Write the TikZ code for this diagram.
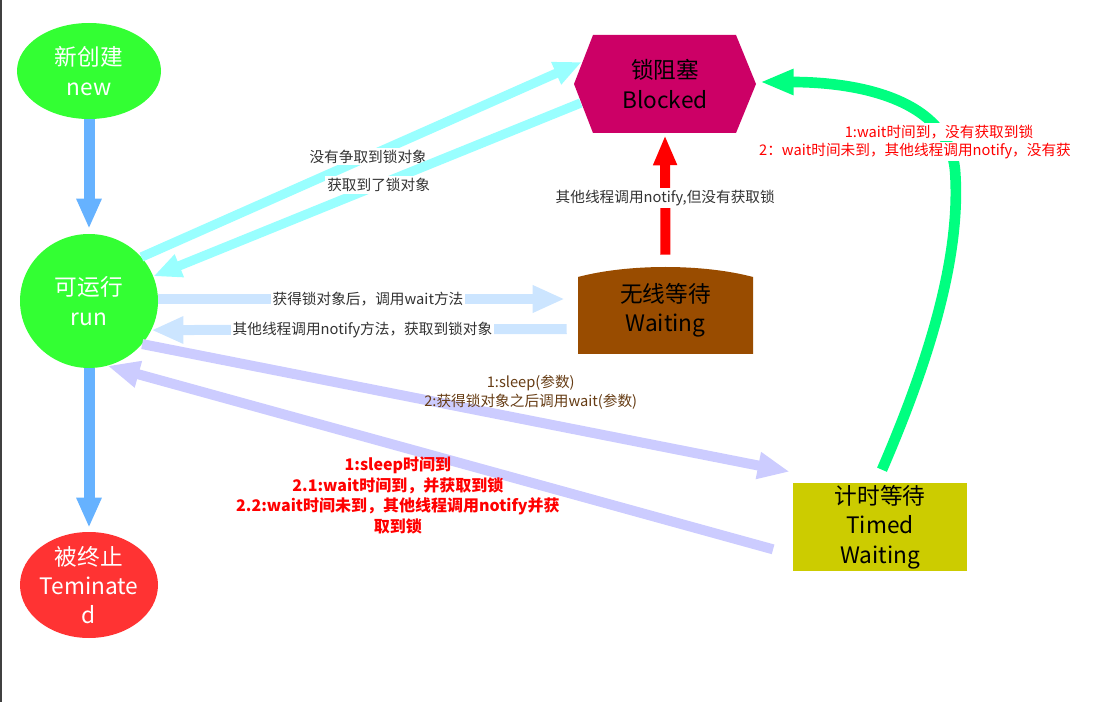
\documentclass[tikz,border=0pt]{standalone}
\usepackage{fontspec}
\setmainfont{Noto Sans CJK SC}
\usetikzlibrary{arrows.meta,positioning,shapes.geometric}
\definecolor{nodegreen}{RGB}{51,255,51}
\definecolor{nodered}{RGB}{255,51,51}
\definecolor{blockmag}{RGB}{204,0,102}
\definecolor{waitbrown}{RGB}{153,76,0}
\definecolor{timedolive}{RGB}{204,204,0}
\definecolor{flowblue}{RGB}{102,178,255}
\definecolor{lockcyan}{RGB}{153,255,255}
\definecolor{waitblue}{RGB}{204,229,255}
\definecolor{timedlav}{RGB}{204,204,255}
\definecolor{wakegreen}{RGB}{0,255,128}
\definecolor{notebrown}{RGB}{102,60,20}
\definecolor{labelgray}{RGB}{51,51,51}
\definecolor{framegray}{RGB}{64,64,64}

\begin{document}
\begin{tikzpicture}[x=0.75pt, y=-0.75pt,
  state/.style={align=center, font=\fontsize{17pt}{22pt}\selectfont},
  ovalstate/.style={state, ellipse, inner sep=-6pt, fill=#1, text=white},
  boxstate/.style={state, rectangle, inner sep=0pt},
  lbl/.style={fill=white, inner sep=1.5pt, text=labelgray, font=\fontsize{11pt}{14pt}\selectfont},
  note/.style={align=center, inner sep=1.5pt, font=\fontsize{11pt}{14.25pt}\selectfont},
  newflow/.style={draw=flowblue, line width=8.25pt, -{Triangle[length=22.5pt,width=17.5pt]}},
  lockflow/.style={draw=lockcyan, line width=7pt, -{Triangle[length=21pt,width=17pt]}},
  waitflow/.style={draw=waitblue, line width=7.5pt, -{Triangle[length=24pt,width=19pt]}},
  timedflow/.style={draw=timedlav, line width=7.5pt, -{Triangle[length=24pt,width=19pt]}},
  notifyflow/.style={draw=red, line width=7.5pt, -{Triangle[length=22.5pt,width=16.5pt]}},
  wakeflow/.style={draw=wakegreen, line width=8pt, -{Triangle[length=25pt,width=18pt]}}]
  \useasboundingbox (0,0) rectangle (1104,702);
  \draw[framegray, line width=1.5pt] (1,0) -- (1,702);

  % states
  \node[ovalstate=nodegreen, minimum width=108pt, minimum height=72pt] (new) at (89,71) {新创建\\new};
  \node[ovalstate=nodegreen, minimum width=103.5pt, minimum height=100.5pt] (run) at (89,301) {可运行\\run};
  \node[ovalstate=nodered, minimum width=103.5pt, minimum height=79.5pt] (term) at (89,585) {被终止\\Teminate\\d};
  \node[boxstate, minimum width=136.5pt, minimum height=73.5pt,
        path picture={\fill[blockmag] (path picture bounding box.west)
          -- ([xshift=14.25pt]path picture bounding box.north west)
          -- ([xshift=-15pt]path picture bounding box.north east)
          -- (path picture bounding box.east)
          -- ([xshift=-15pt]path picture bounding box.south east)
          -- ([xshift=14.25pt]path picture bounding box.south west) -- cycle;}]
        (blocked) at (665,84) {锁阻塞\\Blocked};
  \node[boxstate, minimum width=131.25pt, minimum height=65.25pt,
        path picture={\fill[waitbrown] (path picture bounding box.south west)
          -- ([yshift=-7.5pt]path picture bounding box.north west)
          .. controls ([xshift=-28pt, yshift=2.5pt]path picture bounding box.north)
          and ([xshift=28pt, yshift=2.5pt]path picture bounding box.north)
          .. ([yshift=-7.5pt]path picture bounding box.north east)
          -- (path picture bounding box.south east) -- cycle;}]
        (waiting) at (665.5,310.5) {无线等待\\Waiting};
  \node[boxstate, fill=timedolive, minimum width=130.5pt, minimum height=66pt] (timed) at (880,527) {计时等待\\Timed\\Waiting};

  % transitions
  \draw[newflow, shorten >=3.75pt] (new) -- (run);
  \draw[newflow, shorten >=3pt] (run) -- (term);
  \draw[lockflow] (run.40) -- node[lbl, pos=0.515] {没有争取到锁对象} ([shift={(8,-22)}]blocked.west);
  \draw[lockflow] ([shift={(7,19)}]blocked.west) -- node[lbl, pos=0.473] {获取到了锁对象} (run.21);
  \draw[waitflow, shorten >=9.75pt] ([shift={(0,-2)}]run.east) -- node[lbl, pos=0.5] {获得锁对象后，调用wait方法} ([shift={(0,-11.5)}]waiting.west);
  \draw[waitflow, shorten <=8.25pt] ([shift={(0,18.5)}]waiting.west) -- node[lbl, pos=0.505] {其他线程调用notify方法，获取到锁对象} (run.-25);
  \draw[notifyflow, shorten <=9pt, shorten >=1.5pt] (waiting.north) -- node[lbl, pos=0.515] {其他线程调用notify,但没有获取锁} (blocked.south);
  \draw[timedflow] (run.-39) -- node[note, pos=0.6, above=3pt, text=notebrown] {1:sleep(参数)\\2:获得锁对象之后调用wait(参数)} ([shift={(-3,-11)}]timed.north west);
  \draw[timedflow, shorten <=7.5pt] ([shift={(-10,25)}]timed.west) -- node[note, pos=0.57, below=3pt, text=red, font=\bfseries\fontsize{12pt}{15.5pt}\selectfont]
        {1:sleep时间到\\2.1:wait时间到，并获取到锁\\2.2:wait时间未到，其他线程调用notify并获\\取到锁} (run.-74);
  \draw[wakeflow] ([shift={(2,-13)}]timed.north) .. controls (925,370) and (962,260) .. (955,170)
        .. controls (948,100) and (860,82) .. ([shift={(4,-2)}]blocked.east);
  \node[lbl, text=red] (wakenote) at (939,132) {1:wait时间到，没有获取到锁};
  \node[lbl, text=red, below=0pt of wakenote, xshift=-18pt] (wakenote2) {2：wait时间未到，其他线程调用notify，没有获};
\end{tikzpicture}
\end{document}
